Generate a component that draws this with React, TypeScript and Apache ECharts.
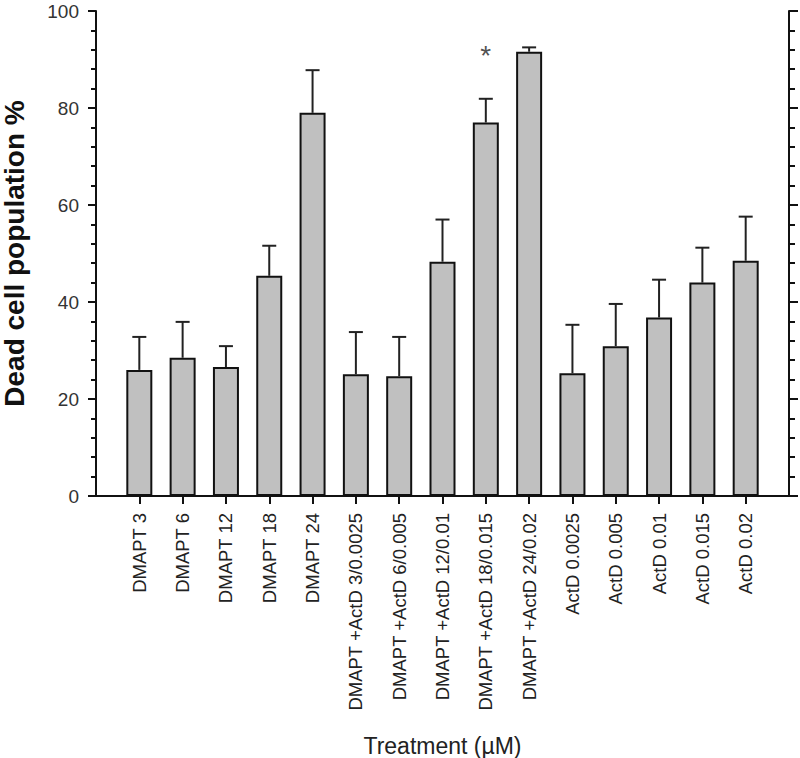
import React, { useEffect, useRef } from "react";
import * as echarts from "echarts";

const categories = [
  "DMAPT 3",
  "DMAPT 6",
  "DMAPT 12",
  "DMAPT 18",
  "DMAPT 24",
  "DMAPT +ActD 3/0.0025",
  "DMAPT +ActD 6/0.005",
  "DMAPT +ActD 12/0.01",
  "DMAPT +ActD 18/0.015",
  "DMAPT +ActD 24/0.02",
  "ActD 0.0025",
  "ActD 0.005",
  "ActD 0.01",
  "ActD 0.015",
  "ActD 0.02",
];
const means = [26.0, 28.5, 26.6, 45.4, 79.0, 25.1, 24.7, 48.3, 77.0, 91.6, 25.3, 30.9, 36.8, 44.0, 48.5];
const upperErrors = [6.8, 7.4, 4.3, 6.2, 8.8, 8.7, 8.1, 8.7, 4.9, 0.9, 10.0, 8.7, 7.8, 7.2, 9.1];
const yTicks = [0, 20, 40, 60, 80, 100];
const starCategory = "DMAPT +ActD 18/0.015";
const starValue = 90.9;

export default function App() {
  const ref = useRef<HTMLDivElement>(null);
  useEffect(() => {
    if (!ref.current) return;
    const chart = echarts.init(ref.current, null, { renderer: "svg" });
    // padded category list: one empty slot at each end
    const axisData = ["", ...categories, ""];
    const barData: any[] = ["-", ...means, "-"];
    const errData = categories.map((c, i) => [i + 1, means[i], means[i] + upperErrors[i]]);
    const starIdx = categories.indexOf(starCategory) + 1;
    const font = "Arial, 'Liberation Sans', sans-serif";
    const yMin = yTicks[0];
    const yMax = yTicks[yTicks.length - 1];
    const yInt = yTicks[1] - yTicks[0];

    chart.setOption({
      animation: false,
      backgroundColor: "#ffffff",
      grid: {
        left: 96,
        right: 11,
        top: 11,
        bottom: 262,
        containLabel: false,
        outerBoundsMode: "none",
      },
      xAxis: [
        {
          type: "category",
          data: axisData,
          boundaryGap: false,
          position: "bottom",
          axisLine: { show: true, lineStyle: { color: "#111", width: 2 } },
          axisTick: {
            show: true,
            length: 8,
            lineStyle: { color: "#111", width: 2 },
            interval: (i: number) => i > 0 && i < axisData.length - 1,
          },
          axisLabel: {
            rotate: 90,
            interval: 0,
            margin: 17,
            fontSize: 18.5,
            fontFamily: font,
            color: "#222",
          },
          name: "Treatment (\u00b5M)",
          nameLocation: "middle",
          nameGap: 238,
          nameTextStyle: { fontSize: 23, fontFamily: font, color: "#222" },
          splitLine: { show: false },
        },
        {
          type: "category",
          data: axisData,
          boundaryGap: false,
          position: "top",
          axisLine: { show: true, lineStyle: { color: "#111", width: 2 } },
          axisTick: { show: false },
          axisLabel: { show: false },
          splitLine: { show: false },
        },
      ],
      yAxis: [
        {
          type: "value",
          min: yMin,
          max: yMax,
          interval: yInt,
          position: "left",
          axisLine: { show: true, lineStyle: { color: "#111", width: 2 } },
          axisTick: { show: true, length: 8, lineStyle: { color: "#111", width: 2 } },
          minorTick: { show: true, splitNumber: 5, length: 5, lineStyle: { color: "#111", width: 2 } },
          axisLabel: { fontSize: 19, fontFamily: font, color: "#333", margin: 17 },
          splitLine: { show: false },
          name: "Dead cell population %",
          nameLocation: "middle",
          nameGap: 68,
          nameTextStyle: { fontSize: 28, fontWeight: "bold", fontFamily: font, color: "#111" },
        },
        {
          type: "value",
          min: yMin,
          max: yMax,
          interval: yInt,
          position: "right",
          axisLine: { show: true, lineStyle: { color: "#111", width: 2 } },
          axisTick: { show: true, length: 9, lineStyle: { color: "#111", width: 2 } },
          minorTick: { show: true, splitNumber: 5, length: 6, lineStyle: { color: "#111", width: 2 } },
          axisLabel: { show: false },
          splitLine: { show: false },
        },
      ],
      series: [
        {
          type: "bar",
          data: barData,
          barWidth: 26,
          itemStyle: { color: "#c0c0c0", borderColor: "#111", borderWidth: 2 },
          z: 2,
        },
        {
          type: "custom",
          data: errData,
          z: 3,
          renderItem: (params: any, api: any) => {
            const x = api.value(0);
            const base = api.coord([x, api.value(1)]);
            const top = api.coord([x, api.value(2)]);
            const half = 7;
            return {
              type: "group",
              children: [
                {
                  type: "line",
                  shape: { x1: base[0], y1: base[1], x2: top[0], y2: top[1] },
                  style: { stroke: "#222", lineWidth: 2 },
                },
                {
                  type: "line",
                  shape: { x1: top[0] - half, y1: top[1], x2: top[0] + half, y2: top[1] },
                  style: { stroke: "#222", lineWidth: 2 },
                },
              ],
            };
          },
        },
        {
          type: "scatter",
          data: [[starIdx, starValue]],
          symbolSize: 1,
          itemStyle: { color: "transparent" },
          label: {
            show: true,
            formatter: "*",
            position: "inside",
            fontSize: 28,
            fontFamily: font,
            color: "#222",
          },
          z: 4,
        },
      ],
    });
    return () => chart.dispose();
  }, []);
  return (
    <div
      ref={ref}
      style={{ position: "absolute", left: 0, top: 0, width: 800, height: 758 }}
    />
  );
}
